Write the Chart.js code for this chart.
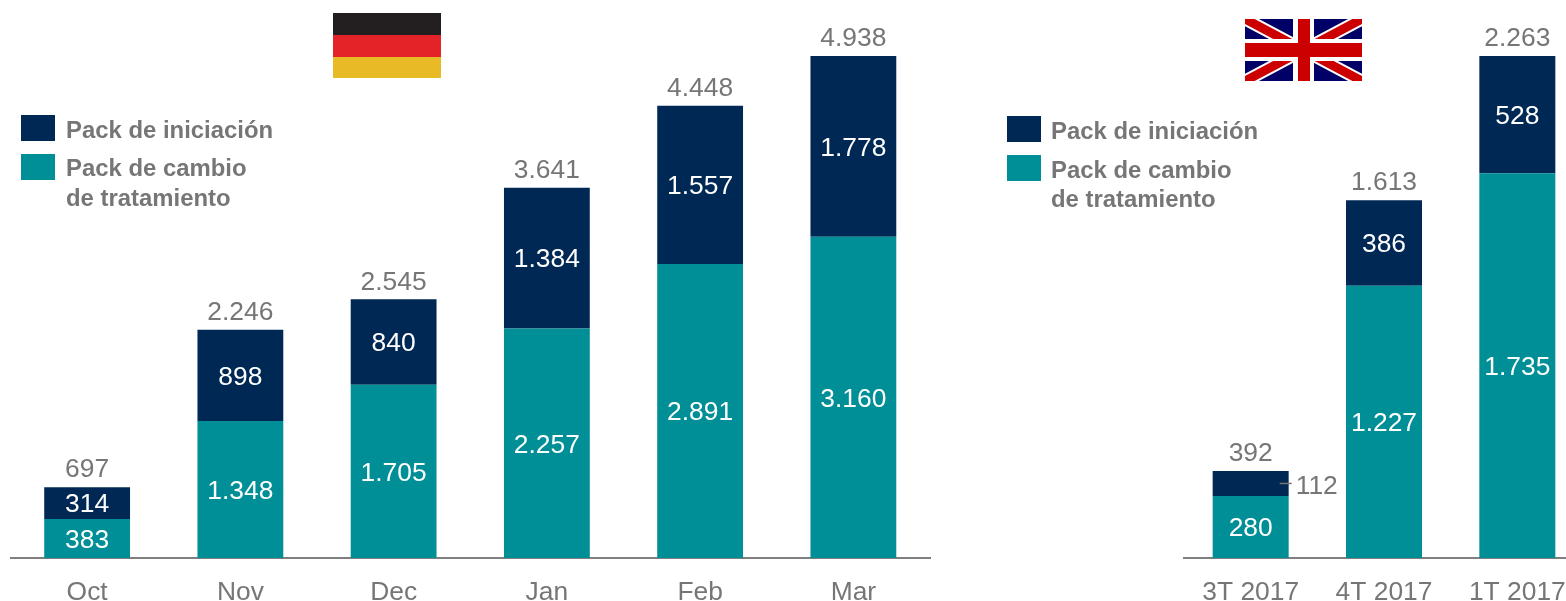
<!DOCTYPE html>
<html lang="es">
<head>
<meta charset="utf-8">
<title>Pack de iniciación y Pack de cambio de tratamiento</title>
<script src="https://cdn.jsdelivr.net/npm/chart.js@4/dist/chart.umd.min.js"></script>
<style>
html,body{margin:0;padding:0;width:1566px;height:601px;overflow:hidden;background:#fff}
canvas{position:absolute;top:0}
.sw{position:absolute;width:34px;height:26px}
.lg{position:absolute;font:bold 23.9px/30px "Liberation Sans",Arial,sans-serif;color:#767676;white-space:nowrap}
svg,.fl{position:absolute}
</style>
</head>
<body>
<canvas id="de" width="940" height="601" style="left:0"></canvas>
<canvas id="uk" width="420" height="601" style="left:1174px"></canvas>

<div class="fl" style="left:333px;top:13px;width:108px;height:22px;background:#231f20"></div>
<div class="fl" style="left:333px;top:35px;width:108px;height:22px;background:#e42328"></div>
<div class="fl" style="left:333px;top:57px;width:108px;height:21px;background:#e8bb26"></div>

<svg style="left:1245px;top:19px" width="117" height="62" viewBox="0 0 117 62">
<rect width="117" height="62" fill="#000066"/>
<path d="M0 0L117 62M117 0L0 62" stroke="#fff" stroke-width="13"/>
<path d="M0 0L117 62M117 0L0 62" stroke="#cc0000" stroke-width="9"/>
<rect x="48" width="21" height="62" fill="#fff"/><rect y="20" width="117" height="22" fill="#fff"/>
<rect x="53" width="12" height="62" fill="#cc0000"/><rect y="24" width="117" height="14" fill="#cc0000"/>
</svg>

<div class="sw" style="left:21px;top:115px;background:#002855"></div>
<div class="lg" style="left:66px;top:115px">Pack de iniciación</div>
<div class="sw" style="left:21px;top:154px;background:#008e97"></div>
<div class="lg" style="left:66px;top:153px">Pack de cambio<br>de tratamiento</div>

<div class="sw" style="left:1007px;top:116px;background:#002855"></div>
<div class="lg" style="left:1051px;top:116px">Pack de iniciación</div>
<div class="sw" style="left:1007px;top:155px;background:#008e97"></div>
<div class="lg" style="left:1051px;top:155px;line-height:29px">Pack de cambio<br>de tratamiento</div>

<script>
const deCategories = ['Oct','Nov','Dec','Jan','Feb','Mar'];
const deCambio     = [383,1348,1705,2257,2891,3160];
const deIniciacion = [314,898,840,1384,1557,1778];
const deTotals     = [697,2246,2545,3641,4448,4938];

const ukCategories = ['3T 2017','4T 2017','1T 2017'];
const ukCambio     = [280,1227,1735];
const ukIniciacion = [112,386,528];
const ukTotals     = [392,1613,2263];

const NAVY = '#002855', TEAL = '#008e97', GREY = '#767676';
const FONT = '"Liberation Sans", Arial, sans-serif';
const fmt = v => String(v).replace(/\B(?=(\d{3})+$)/g, '.');

const labelPlugin = {
  id: 'valueLabels',
  afterDatasetsDraw(chart, args, opts) {
    const c = chart.ctx;
    c.save();
    c.font = '26.4px ' + FONT;
    c.textBaseline = 'middle';
    chart.data.datasets.forEach((ds, d) => {
      chart.getDatasetMeta(d).data.forEach((bar, i) => {
        if (d === opts.outside.dataset && i === opts.outside.index) {
          const midY = (bar.y + bar.base) / 2;
          const right = bar.x + bar.width / 2;
          c.strokeStyle = GREY; c.lineWidth = 1.5;
          c.beginPath(); c.moveTo(right - 9, midY); c.lineTo(right + 3, midY); c.stroke();
          c.fillStyle = GREY; c.textAlign = 'left';
          c.fillText(fmt(ds.data[i]), right + 7, midY + 3);
        } else {
          c.fillStyle = '#fff'; c.textAlign = 'center';
          c.fillText(fmt(ds.data[i]), bar.x, (bar.y + bar.base) / 2 + 2);
        }
      });
    });
    const top = chart.getDatasetMeta(chart.data.datasets.length - 1).data;
    c.fillStyle = GREY; c.textAlign = 'center';
    opts.totals.forEach((t, i) => c.fillText(fmt(t), top[i].x, top[i].y - 17));
    c.restore();
  }
};

function build(id, categories, cambio, iniciacion, totals, barPct, leftPad, outside) {
  return new Chart(document.getElementById(id), {
    type: 'bar',
    plugins: [labelPlugin],
    data: {
      labels: categories,
      datasets: [
        { label: 'Pack de cambio de tratamiento', data: cambio, backgroundColor: TEAL },
        { label: 'Pack de iniciación', data: iniciacion, backgroundColor: NAVY }
      ]
    },
    options: {
      responsive: false,
      animation: false,
      layout: { padding: { left: leftPad, right: 10, top: 56, bottom: 0 } },
      datasets: { bar: { barPercentage: barPct, categoryPercentage: 1 } },
      plugins: {
        legend: { display: false },
        tooltip: { enabled: false },
        valueLabels: { totals, outside }
      },
      scales: {
        x: {
          stacked: true,
          afterFit(s) { s.height = 43; },
          grid: { display: false, drawTicks: false },
          border: { display: true, color: '#7f7f7f', width: 2 },
          ticks: { color: GREY, font: { family: FONT, size: 26.4 }, padding: 19, maxRotation: 0, autoSkip: false }
        },
        y: { stacked: true, display: false, min: 0, max: Math.max(...totals) }
      }
    }
  });
}

build('de', deCategories, deCambio, deIniciacion, deTotals, 0.56, 10.5, { dataset: -1, index: -1 });
build('uk', ukCategories, ukCambio, ukIniciacion, ukTotals, 0.57, 10, { dataset: 1, index: 0 });
</script>
</body>
</html>
